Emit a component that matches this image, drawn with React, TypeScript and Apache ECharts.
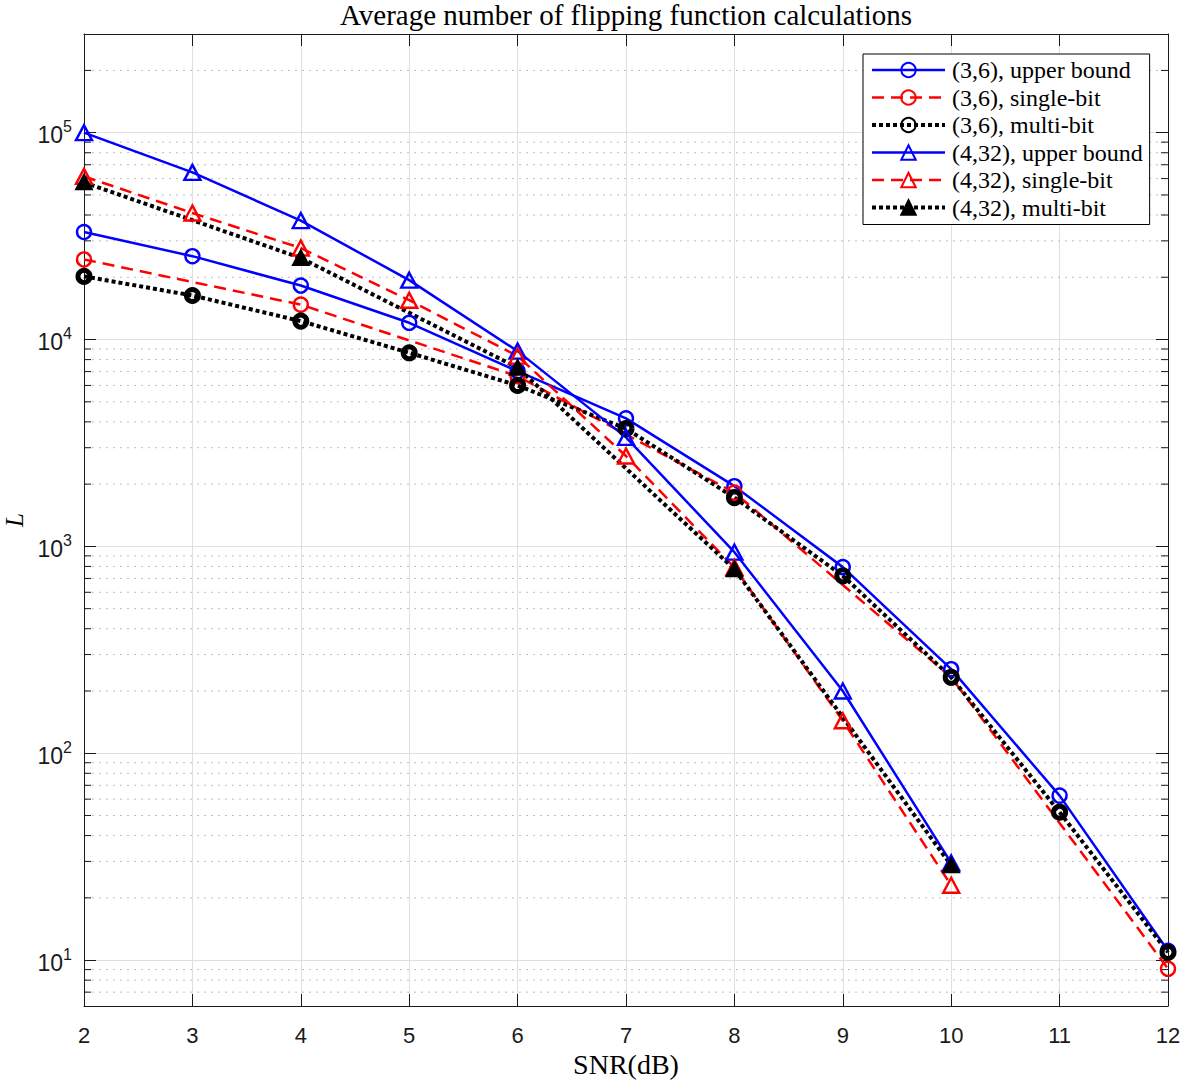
import React, { useEffect, useRef } from "react";
import * as echarts from "echarts";

// ---- data ----
const SNR_ALL = [2, 3, 4, 5, 6, 7, 8, 9, 10, 11, 12];
const SNR_EVEN = [2, 4, 6, 8, 10, 12];
const SNR_432 = [2, 3, 4, 5, 6, 7, 8, 9, 10];
const SNR_432_EVEN = [2, 4, 6, 8, 10];

const upper36 = [33100, 25300, 18240, 12050, 7030, 4160, 1955, 794, 255, 62.4, 11.1];
const single36 = [24400, 14750, 6650, 1820, 233, 9.08];
const multi36 = [20200, 16330, 12280, 8630, 6000, 3710, 1722, 721, 233, 51.9, 10.9];

const upper432 = [100000, 64300, 37600, 19370, 8790, 3365, 938, 200, 29.5];
const single432 = [61500, 40900, 27700, 15490, 8320, 2735, 790, 143.6, 23.0];
const multi432 = [57500, 24800, 7310, 776, 28.7];

const SERIES_NAMES = [
  "(3,6), upper bound",
  "(3,6), single-bit",
  "(3,6), multi-bit",
  "(4,32), upper bound",
  "(4,32), single-bit",
  "(4,32), multi-bit",
];

const X_MIN = 2;
const X_MAX = 12;
const Y_MIN = 6;
const Y_MAX = 300000;
const DECADES = [1, 10, 100, 1000, 10000, 100000];
const MINOR_MULTS = [2, 3, 4, 5, 6, 7, 8, 9];

const TITLE = "Average number of flipping function calculations";
const X_NAME = "SNR(dB)";
const Y_NAME = "L";

const zip = (xs: number[], ys: number[]) => xs.map((x, i) => [x, ys[i]]);

const BLUE = "#0000ff";
const RED = "#ff0000";
const BLACK = "#000000";

export default function App() {
  const ref = useRef<HTMLDivElement>(null);

  useEffect(() => {
    if (!ref.current) return;
    const chart = echarts.init(ref.current, undefined, { renderer: "svg" });

    const minorVals: number[] = [];
    DECADES.forEach((d) =>
      MINOR_MULTS.forEach((m) => {
        const v = d * m;
        if (v > Y_MIN * 1.001 && v < Y_MAX * 0.999) minorVals.push(v);
      })
    );

    const serif = "Liberation Serif";
    const sans = "Liberation Sans";
    const axisColor = "#1a1a1a";

    const circleSize = 14;
    const triSize = [16, 15];
    const lw = 2.5;

    const mk = (
      name: string,
      data: number[][],
      color: string,
      lineType: any,
      lineWidth: number,
      symbol: string,
      symbolSize: any,
      fill: string,
      borderWidth: number
    ) => ({
      name,
      type: "line",
      data,
      clip: false,
      symbol,
      symbolSize,
      showAllSymbol: true,
      lineStyle: { color, type: lineType, width: lineWidth, cap: "butt" },
      itemStyle: { color: fill, borderColor: color, borderWidth },
      emphasis: { disabled: true },
      z: 3,
    });

    const option: any = {
      animation: false,
      grid: {
        left: 84,
        top: 34,
        right: 13,
        bottom: 74,
        containLabel: false,
        outerBoundsMode: "none",
      },
      graphic: [
        {
          type: "text",
          x: 626,
          y: 15,
          style: {
            text: TITLE,
            fontFamily: serif,
            fontSize: 29,
            lineHeight: 28,
            fill: "#000",
            align: "center",
            verticalAlign: "middle",
          },
        },
      ],
      legend: {
        orient: "vertical",
        left: 863,
        top: 54,
        itemWidth: 73,
        itemHeight: 18,
        itemGap: 3.5,
        padding: [4, 7, 5, 7],
        backgroundColor: "#fff",
        borderColor: "#000",
        borderWidth: 1,
        borderRadius: 0,
        selectedMode: false,
        textStyle: {
          fontFamily: serif,
          fontSize: 24,
          color: "#000",
          width: 192,
          padding: [0, 0, 0, 2],
        },
        data: [
          { name: SERIES_NAMES[0], lineStyle: { width: lw } },
          { name: SERIES_NAMES[1], lineStyle: { width: lw } },
          { name: SERIES_NAMES[2], lineStyle: { width: 4 } },
          { name: SERIES_NAMES[3], lineStyle: { width: lw } },
          { name: SERIES_NAMES[4], lineStyle: { width: lw } },
          { name: SERIES_NAMES[5], lineStyle: { width: 4 } },
        ],
      },
      xAxis: [
        {
          type: "value",
          min: X_MIN,
          max: X_MAX,
          interval: 1,
          position: "bottom",
          name: X_NAME,
          nameLocation: "middle",
          nameGap: 42,
          nameTextStyle: { fontFamily: serif, fontSize: 28, color: "#000" },
          axisLine: { show: true, onZero: false, lineStyle: { color: axisColor, width: 1 } },
          axisTick: { show: true, inside: true, length: 12, lineStyle: { color: axisColor } },
          axisLabel: { fontFamily: sans, fontSize: 22, color: axisColor, margin: 18 },
          splitLine: { show: true, lineStyle: { color: "#dfdfdf", width: 1 } },
        },
        {
          type: "value",
          min: X_MIN,
          max: X_MAX,
          interval: 1,
          position: "top",
          axisLine: { show: true, onZero: false, lineStyle: { color: axisColor, width: 1 } },
          axisTick: { show: true, inside: true, length: 12, lineStyle: { color: axisColor } },
          axisLabel: { show: false },
          splitLine: { show: false },
        },
      ],
      yAxis: [
        {
          type: "log",
          logBase: 10,
          min: Y_MIN,
          max: Y_MAX,
          position: "left",
          name: Y_NAME,
          nameLocation: "middle",
          nameGap: 57,
          nameTextStyle: { fontFamily: serif, fontSize: 25, fontStyle: "italic", color: "#000" },
          axisLine: { show: true, onZero: false, lineStyle: { color: axisColor, width: 1 } },
          axisTick: { show: true, inside: true, length: 12, lineStyle: { color: axisColor } },
          axisLabel: {
            margin: 12,
            fontFamily: sans,
            fontSize: 23,
            color: axisColor,
            formatter: (v: number) => {
              const e = Math.round(Math.log10(v));
              if (Math.abs(v - Math.pow(10, e)) > 1e-6 * v) return "";
              return "{b|10}{s|" + e + "}";
            },
            rich: {
              b: { fontFamily: sans, fontSize: 23, color: axisColor, lineHeight: 28, verticalAlign: "bottom" },
              s: { fontFamily: sans, fontSize: 16, color: axisColor, lineHeight: 28, verticalAlign: "top" },
            },
          },
          splitLine: { show: true, lineStyle: { color: "#dfdfdf", width: 1 } },
        },
        {
          type: "log",
          logBase: 10,
          min: Y_MIN,
          max: Y_MAX,
          position: "right",
          axisLine: { show: true, onZero: false, lineStyle: { color: axisColor, width: 1 } },
          axisTick: { show: true, inside: true, length: 12, lineStyle: { color: axisColor } },
          axisLabel: { show: false },
          splitLine: { show: false },
        },
      ],
      series: [
        {
          type: "custom",
          name: "minor",
          silent: true,
          z: 1,
          clip: false,
          data: minorVals.map((v) => [X_MIN, v]),
          encode: { x: 0, y: 1 },
          renderItem: (params: any, api: any) => {
            const y = api.value(1);
            const p1 = api.coord([X_MIN, y]);
            const p2 = api.coord([X_MAX, y]);
            return {
              type: "group",
              children: [
                {
                  type: "line",
                  shape: { x1: p1[0] + 1, y1: p1[1], x2: p2[0] - 1, y2: p2[1] },
                  style: { stroke: "#bdbdbd", lineWidth: 1, lineDash: [2, 5] },
                },
                {
                  type: "line",
                  shape: { x1: p1[0], y1: p1[1], x2: p1[0] + 7, y2: p1[1] },
                  style: { stroke: axisColor, lineWidth: 1 },
                },
                {
                  type: "line",
                  shape: { x1: p2[0] - 7, y1: p2[1], x2: p2[0], y2: p2[1] },
                  style: { stroke: axisColor, lineWidth: 1 },
                },
              ],
            };
          },
        },
        mk(SERIES_NAMES[0], zip(SNR_ALL, upper36), BLUE, "solid", lw, "circle", circleSize, "rgba(0,0,0,0)", 2.4),
        mk(SERIES_NAMES[1], zip(SNR_EVEN, single36), RED, [12, 7], lw, "circle", circleSize, "rgba(0,0,0,0)", 2.4),
        mk(SERIES_NAMES[2], zip(SNR_ALL, multi36), BLACK, [4, 3], 4, "circle", 12, "rgba(0,0,0,0)", 5),
        mk(SERIES_NAMES[3], zip(SNR_432, upper432), BLUE, "solid", lw, "triangle", triSize, "rgba(0,0,0,0)", 2.4),
        mk(SERIES_NAMES[4], zip(SNR_432, single432), RED, [12, 7], lw, "triangle", triSize, "rgba(0,0,0,0)", 2.4),
        mk(SERIES_NAMES[5], zip(SNR_432_EVEN, multi432), BLACK, [4, 3], 4, "triangle", [14, 13], BLACK, 3),
      ],
    };

    chart.setOption(option);
    return () => chart.dispose();
  }, []);

  return (
    <div
      ref={ref}
      style={{ position: "fixed", left: 0, top: 0, width: 1181, height: 1080, background: "#fff" }}
    />
  );
}
